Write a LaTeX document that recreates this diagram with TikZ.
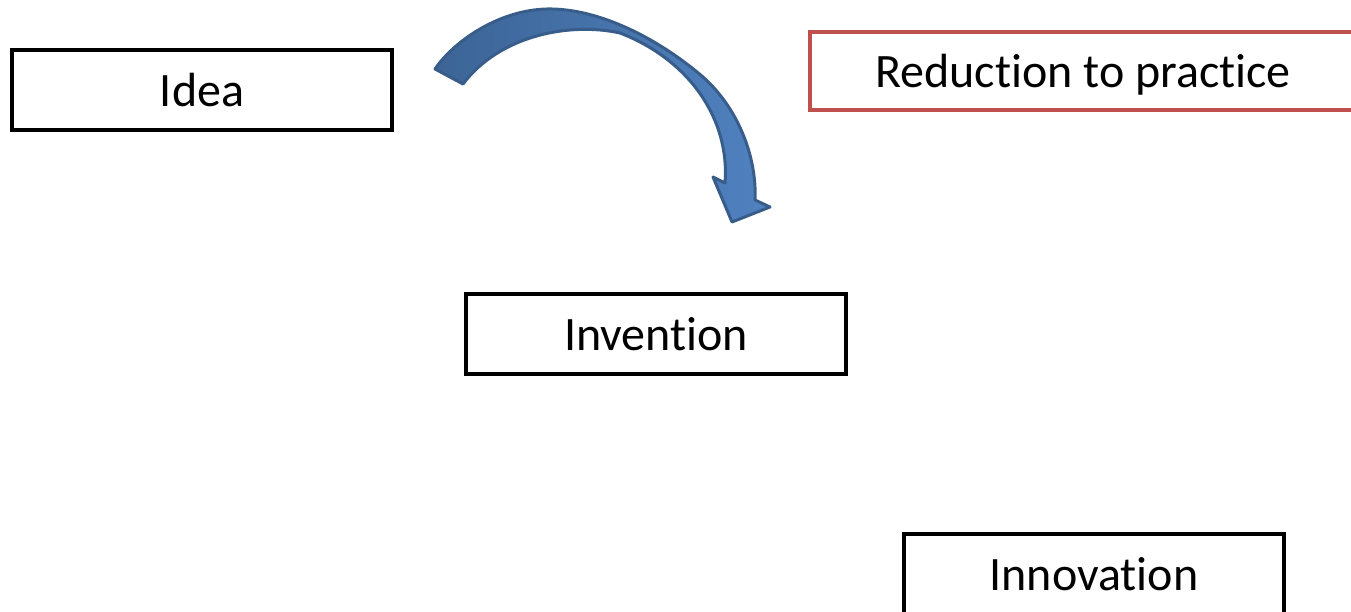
\documentclass[tikz,border=0pt]{standalone}
\usepackage{fontspec}
\setmainfont[Ligatures=NoCommon]{Carlito}
\usetikzlibrary{calc}
\definecolor{boxred}{HTML}{C0504D}
\definecolor{arrowdark}{HTML}{3C6496}
\definecolor{arrowlight}{HTML}{5082C0}
\definecolor{arrowline}{HTML}{385D8A}

\begin{document}
\begin{tikzpicture}[x=1pt, y=-1pt,
    stagebox/.style={draw=black, line width=3.5pt, fill=white, minimum width=380pt,
      minimum height=80pt, inner sep=0pt, text height=36pt, text depth=3pt,
      font=\fontsize{48}{56}\selectfont},
    redbox/.style={stagebox, draw=boxred, minimum width=546pt, minimum height=78pt},
    bentarrow/.style={draw=arrowline, line width=3pt, line join=round,
      left color=arrowdark, right color=arrowlight}]
  % frame of the page
  \useasboundingbox (0,0) rectangle (1351,612);
  % the four stages
  \node[stagebox] (idea) at (202,90) {Idea};
  \node[redbox] (reduction) at (1083,71) {Reduction to practice};
  \node[stagebox] (invention) at (656,334) {Invention};
  \node[stagebox] (innovation) at (1094,574) {Innovation};
  % curved block arrow
  \draw[bentarrow] (435,69) .. controls (455,40) and (500,10) .. (547,9)
    .. controls (600,8) and (660,40) .. (703,77)
    .. controls (740,110) and (757,160) .. (755,200)
    -- (770,207) -- (732,222) -- (713,177) -- (725,183)
    .. controls (730,120) and (690,60) .. (620,33)
    .. controls (570,22) and (500,35) .. (463,84) -- cycle;
\end{tikzpicture}
\end{document}
